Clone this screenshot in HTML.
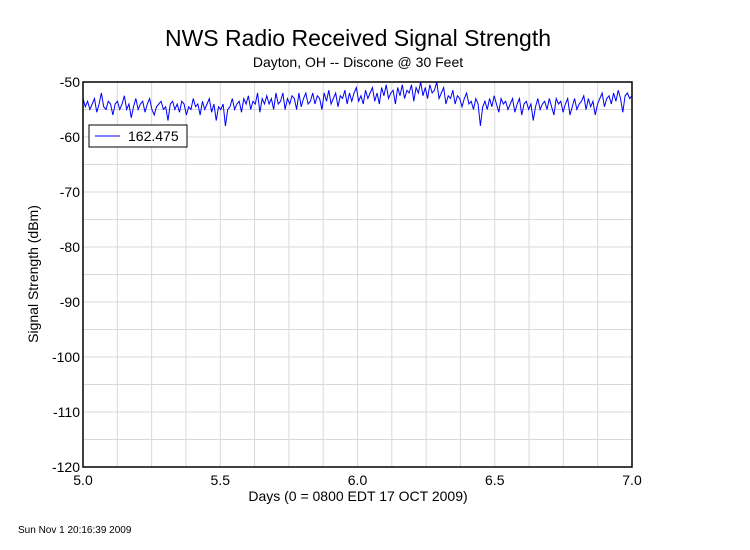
<!DOCTYPE html>
<html><head><meta charset="utf-8">
<style>
body{margin:0;background:#fff;}
svg{display:block;font-family:"Liberation Sans",Arial,sans-serif;}
</style></head>
<body>
<svg id="chart" width="750" height="550" viewBox="0 0 750 550">
<text x="358" y="46" text-anchor="middle" font-size="23">NWS Radio Received Signal Strength</text>
<text x="358" y="67" text-anchor="middle" font-size="14">Dayton, OH -- Discone @ 30 Feet</text>
<g id="grid"></g>
<g id="ticks"></g>
<path id="series" fill="none" stroke="#0000ff" stroke-width="1"></path>
<rect x="83" y="82" width="549" height="385" fill="none" stroke="#000" stroke-width="1.5"></rect>
<g>
<rect x="89" y="125" width="98" height="22" fill="#fff" stroke="#000" stroke-width="1"></rect>
<line x1="95" y1="136" x2="120" y2="136" stroke="#0000ff" stroke-width="1"></line>
<text x="128" y="141" font-size="14">162.475</text>
</g>
<text x="358" y="501" text-anchor="middle" font-size="14">Days (0 = 0800 EDT 17 OCT 2009)</text>
<text transform="translate(38,274) rotate(-90)" text-anchor="middle" font-size="14">Signal Strength (dBm)</text>
<text x="18" y="533" font-size="10">Sun Nov  1 20:16:39 2009</text>
</svg>
<script>
const xTicks=[5.0,5.5,6.0,6.5,7.0];
const xTickLabels=["5.0","5.5","6.0","6.5","7.0"];
const yTicks=[-50,-60,-70,-80,-90,-100,-110,-120];
const yTickLabels=["-50","-60","-70","-80","-90","-100","-110","-120"];
const signalValues=[
-53,-54.5,-53.5,-55,-54,-53,-55.5,-54,-52,-54.5,-55,-53.5,-54,-56,-54,-53.5,-55,-54,-52.5,-55,
-54,-56.5,-54.5,-53,-55,-54,-53.5,-55.5,-54,-53,-55,-56,-54.5,-54,-53.5,-55,-54.5,-57,-54,-53.5,
-55,-54,-55.5,-53.5,-54,-56,-54.5,-55,-53,-54.5,-54,-56,-53.5,-55,-54,-53,-55.5,-54,-57,-54.5,
-55,-54,-58,-55,-54.5,-53,-55,-54,-53.5,-55.5,-53,-54,-52.5,-55,-53.5,-54,-52,-55.5,-53,-54,
-52.5,-54,-53,-55,-52,-54,-53.5,-52,-55,-53,-54,-52.5,-53,-55,-52,-54.5,-53,-52,-54,-53.5,
-52,-54,-52.5,-53,-55,-52,-53.5,-51.5,-54,-53,-52,-54.5,-52.5,-53,-51.5,-54,-52,-53.5,-52,-51,
-53.5,-52.5,-54,-51.5,-53,-52,-51,-53.5,-52,-54,-51,-52.5,-50.5,-53,-52,-51.5,-54,-51,-52.5,-50.5,
-53,-51.5,-52,-50.5,-53.5,-51,-52,-50,-52.5,-51,-53,-50.5,-52,-51.5,-50,-53,-52,-51,-54,-52.5,
-53,-51.5,-54,-52.5,-53,-54.5,-53,-52,-54,-53.5,-55,-53,-54,-58,-54.5,-53.5,-55,-53,-54.5,-52.5,
-54,-55.5,-53,-54,-53.5,-55,-54,-53,-55.5,-54,-53,-56,-54,-53.5,-55,-54,-57,-54.5,-53,-55,
-54,-53.5,-55,-53,-54.5,-56,-53,-54,-53.5,-55.5,-54,-53,-56,-54.5,-53,-55,-54,-53.5,-52.5,-55,
-53,-54.5,-53.5,-56,-54,-53,-52,-54.5,-53,-52.5,-54,-52,-53.5,-51.5,-53,-55.5,-52.5,-52,-53,-52.5
];
const L=83,R=632,T=82,B=467,xMin=5,xMax=7,yMin=-120,yMax=-50;
const sx=v=>L+(v-xMin)/(xMax-xMin)*(R-L);
const sy=v=>B-(v-yMin)/(yMax-yMin)*(B-T);
const NS="http://www.w3.org/2000/svg";
const grid=document.getElementById('grid'),ticks=document.getElementById('ticks');
for(let d=xMin+0.125;d<xMax-1e-9;d+=0.125){
 const l=document.createElementNS(NS,'line');
 
 
 l.setAttribute('x1',sx(d));l.setAttribute('x2',sx(d));l.setAttribute('y1',T);l.setAttribute('y2',B);
 l.setAttribute('stroke','#d9d9d9');grid.appendChild(l);
}
for(let v=yMin+5;v<yMax;v+=5){
 const l=document.createElementNS(NS,'line');
 
 
 l.setAttribute('x1',L);l.setAttribute('x2',R);l.setAttribute('y1',sy(v));l.setAttribute('y2',sy(v));
 l.setAttribute('stroke','#d9d9d9');grid.appendChild(l);
}
xTicks.forEach((v,i)=>{
 const t=document.createElementNS(NS,'text');
 
 
 t.setAttribute('x',sx(v));t.setAttribute('y',485);t.setAttribute('text-anchor',i==xTicks.length-1?'middle':'middle');
 t.setAttribute('font-size','14');t.textContent=xTickLabels[i];ticks.appendChild(t);
});
yTicks.forEach((v,i)=>{
 const t=document.createElementNS(NS,'text');
 
 
 t.setAttribute('x',80);t.setAttribute('y',sy(v)+5);t.setAttribute('text-anchor','end');
 t.setAttribute('font-size','14');t.textContent=yTickLabels[i];ticks.appendChild(t);
});
let d='';const n=signalValues.length;
signalValues.forEach((v,i)=>{
 const x=sx(xMin+(xMax-xMin)*i/(n-1)),y=sy(v);
 d+=(i?'L':'M')+x.toFixed(2)+' '+y.toFixed(2);
});
document.getElementById('series').setAttribute('d',d);
</script>
</body></html>
